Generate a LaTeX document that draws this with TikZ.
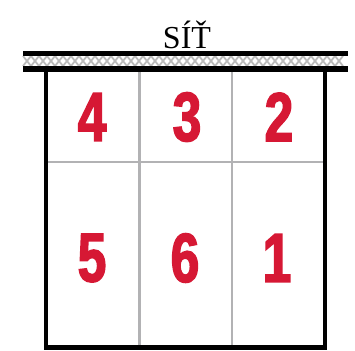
\documentclass[tikz,border=0pt]{standalone}
\usepackage{fontspec}
\usepackage{xcolor}
\usepackage{tikz}
\newfontfamily\titlefont{Liberation Serif}
\newfontfamily\numfont[FakeStretch=0.74,FakeBold=2.2]{Liberation Sans}
\definecolor{numred}{RGB}{214,24,52}
\definecolor{linegray}{RGB}{178,178,180}

\begin{document}
\begin{tikzpicture}[x=0.75pt, y=-0.75pt,
                    num/.style={text=numred, font=\numfont\bfseries\fontsize{52}{52}\selectfont,
                                inner sep=0pt, anchor=center},
                    hatch/.style={gray!55, line width=1.3pt}]
\fill[white] (0,0) rectangle (355,351);
\useasboundingbox (0,0) rectangle (355,351);
% net band
\foreach \x in {23,31,...,339}
  \draw[hatch] (\x,56) -- (\x+8,66) (\x,66) -- (\x+8,56);
\fill[black] (23,51) rectangle (348,56);
\fill[black] (23,66) rectangle (348,72);
\node[font=\titlefont\fontsize{24}{24}\selectfont, anchor=base] (title) at (187,48) {SÍŤ};
% court
\draw[linegray, line width=2.2pt] (139.5,72) -- (139.5,347);
\draw[linegray, line width=2.2pt] (232,72) -- (232,347);
\draw[linegray, line width=2.2pt] (46,162) -- (325,162);
\draw[line width=3.2pt] (46,72) -- (46,347.5) -- (325,347.5) -- (325,72);
% zones
\node[num] (n4) at (92,117) {4};
\node[num] (n3) at (187,117) {3};
\node[num] (n2) at (279,117) {2};
\node[num] (n5) at (92,258) {5};
\node[num] (n6) at (185,258) {6};
\node[num] (n1) at (277,258) {1};
\end{tikzpicture}
\end{document}
